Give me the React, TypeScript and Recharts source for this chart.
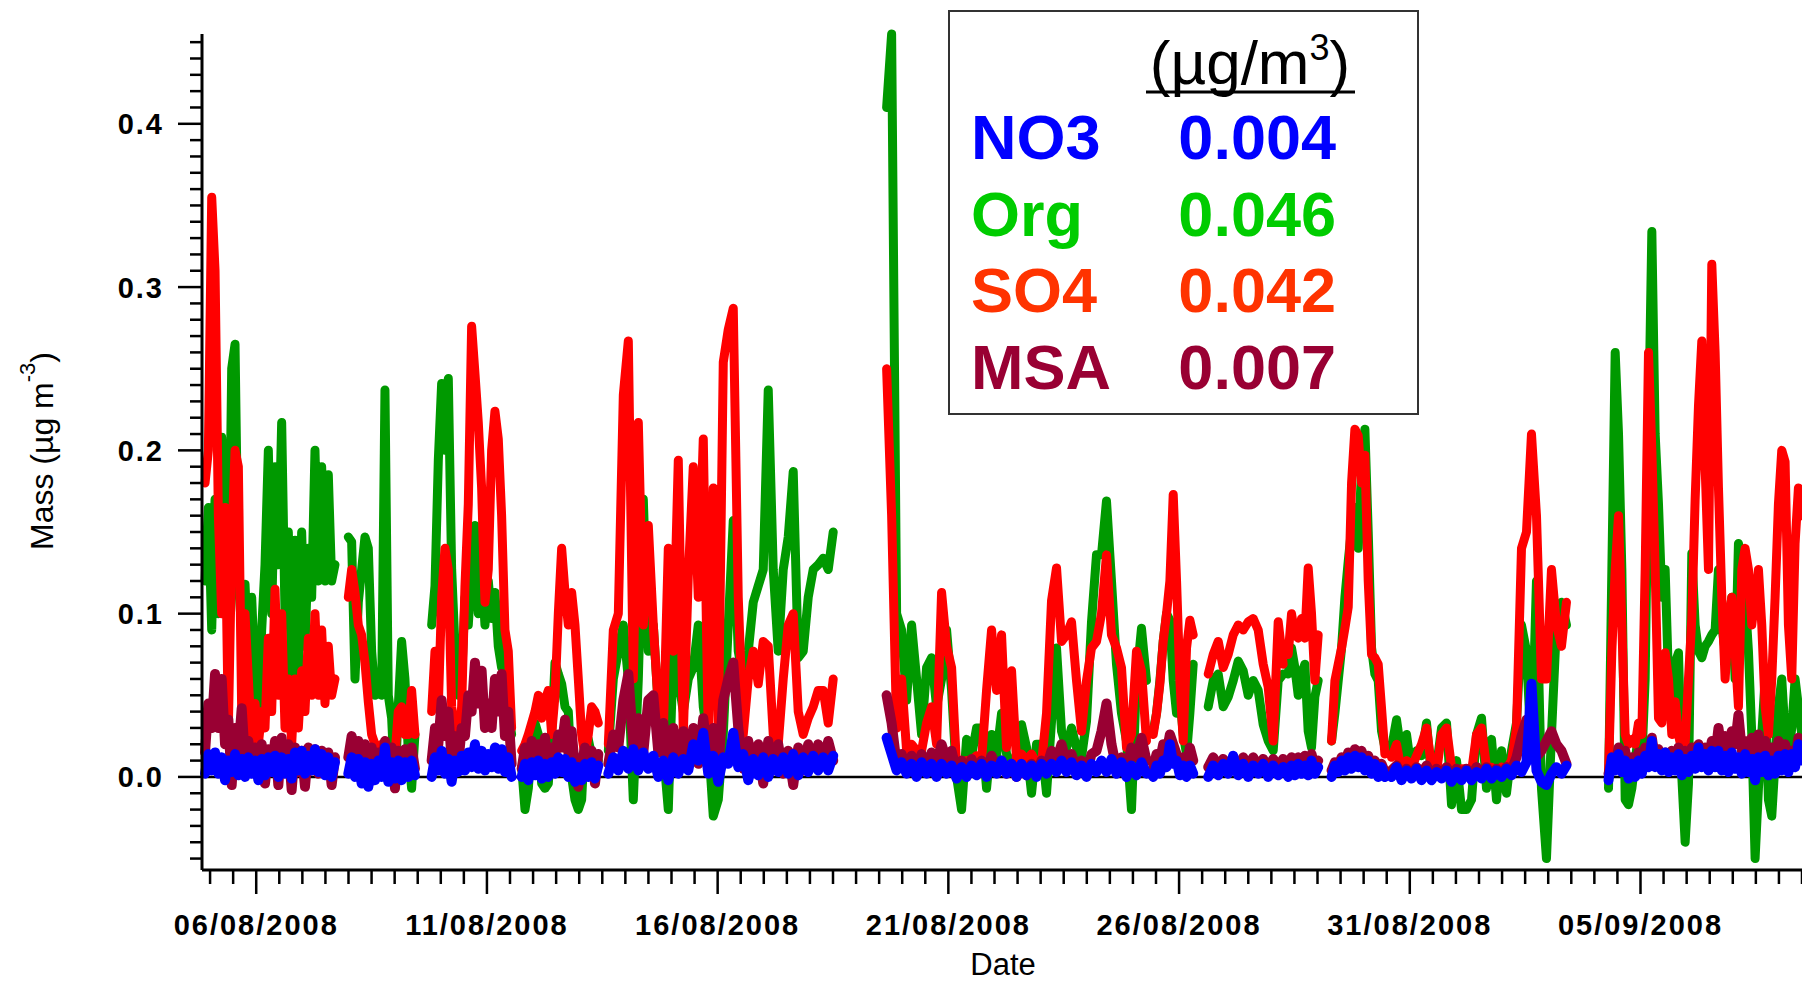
import React from 'react';
import { LineChart, Line, XAxis, YAxis, ReferenceLine } from 'recharts';

const W = 1802;
const H = 984;

// ---- time grid of each measurement segment (days since 05/08/2008 00:00) ----
const segStart = [-0.109, 2.996, 4.802, 6.753, 8.631, 14.662, 20.44, 21.632, 23.365, 24.305, 25.605, 30.307];
const segStep = [0.0722, 0.0722, 0.0722, 0.0722, 0.1083, 0.1083, 0.0722, 0.1083, 0.0722, 0.0722, 0.1083, 0.0722];

// ---- Org ----
const org1 = [0.12,0.165,0.09,0.17,0.1,0.208,0.15,0.09,0.25,0.265,0.12,0.09,0.118,0.07,0.11,0.06,0.04,0.09,0.13,0.2,0.1,0.19,0.13,0.217,0.1,0.15,0.06,0.145,0.06,0.15,0.08,0.14,0.11,0.2,0.12,0.19,0.12,0.185,0.12,0.13];
const org2 = [0.147,0.144,0.06,0.107,0.127,0.147,0.14,0.077,0.05,0.06,0.05,0.237,0.05,0.036,-0.007,0.043,0.083,0.06,0.016,-0.007,0.026];
const org3 = [0.093,0.117,0.194,0.241,0.2,0.244,0.127,0.08,0.05,0.06,0.11,0.093,0.127,0.154,0.1,0.13,0.093,0.12,0.097,0.113,0.08,0.067,0.083,0.04,0.026];
const org4 = [0.006,-0.02,-0.007,0.023,0.033,0.026,-0.004,-0.007,-0.004,0.026,0.07,0.063,0.057,0.043,0.04,0.0,-0.014,-0.02,-0.014,0.026,0.023,0.013,0.0,0.01];
const org5 = [0.016,0.06,0.077,0.093,0.06,-0.014,0.06,0.17,0.077,0.093,0.043,0.016,-0.02,0.077,0.06,0.04,0.06,0.067,0.093,0.043,0.023,-0.024,-0.014,0.026,0.093,0.157,0.077,0.06,0.077,0.107,0.117,0.127,0.237,0.127,0.077,0.127,0.147,0.187,0.073,0.077,0.11,0.127,0.13,0.134,0.127,0.15];
const org6 = [0.41,0.455,0.1,0.09,0.047,0.093,0.06,0.026,0.067,0.073,0.043,0.06,0.09,0.053,0.0,-0.02,0.023,0.013,0.03,0.03,-0.007,0.026,0.013,
  0.039,0.014,0.008,0.002,0.032,0.018,-0.01,0.02,0.02,-0.01,0.034,0.079,0.028,0.018,0.03,0.018,0.012,0.034,0.095,0.136,0.136,0.169,0.12,0.069,0.039,0.022,-0.02,0.059,0.091,0.059];
const org7 = [0.028,0.039,0.059,0.083,0.1,0.096,0.059,0.039,0.049,0.026,0.014,0.039,0.069];
const org8 = [0.043,0.059,0.063,0.043,0.049,0.059,0.071,0.065,0.05,0.059,0.053,0.032,0.022,0.016,0.059,0.063];
const org9 = [0.063,0.079,0.067,0.05,0.063,0.069,0.028,0.018,0.049,0.059];
const org10 = [0.022,0.039,0.059,0.079,0.11,0.132,0.152,0.165,0.14,0.189,0.213,0.15,0.079,0.063,0.059,0.028,0.018];
const org11 = [0.018,0.035,0.013,0.026,0.003,0.016,0.013,0.033,0.0,0.006,0.03,0.033,-0.017,0.01,-0.02,-0.02,-0.014,0.026,0.036,-0.007,0.023,-0.014,0.016,-0.01,0.016,0.033,0.093,0.077,0.013,0.12,-0.007,-0.05,0.026,0.093,0.107,0.093];
const org12 = [-0.007,0.127,0.26,0.21,0.127,-0.014,-0.017,-0.007,0.01,0.026,0.01,0.06,0.21,0.334,0.21,0.167,0.11,0.127,0.06,0.043,0.07,0.076,0.0,-0.04,-0.004,0.137,0.093,0.077,0.073,0.08,0.083,0.087,0.09,0.127,0.093,0.077,0.093,0.11,0.06,0.143,0.134,0.11,0.077,0.026,-0.05,-0.007,0.026,0.06,-0.014,-0.024,0.01,0.043,0.06,0.026,0.013,0.03,0.06,0.043,0.026];

// ---- SO4 ----
const so41 = [0.18,0.2,0.355,0.31,0.16,0.1,0.165,0.03,0.14,0.2,0.19,0.04,0.1,0.06,0.02,0.045,0.02,0.04,0.03,0.085,0.04,0.115,0.05,0.1,0.03,0.06,0.02,0.06,0.03,0.065,0.04,0.085,0.05,0.1,0.05,0.09,0.045,0.08,0.05,0.06];
const so42 = [0.11,0.127,0.113,0.093,0.087,0.07,0.046,0.026,0.02,0.003,0.02,0.016,0.01,0.013,0.013,0.04,0.043,0.026,0.026,0.053,0.026];
const so43 = [0.04,0.077,0.043,0.11,0.14,0.127,0.043,0.026,0.023,0.043,0.117,0.167,0.276,0.247,0.217,0.177,0.107,0.127,0.2,0.224,0.207,0.16,0.09,0.077,0.03];
const so44 = [0.016,0.02,0.026,0.033,0.04,0.05,0.036,0.047,0.053,0.026,0.05,0.1,0.14,0.113,0.093,0.113,0.093,0.06,0.026,0.013,0.026,0.043,0.04,0.033];
const so45 = [0.02,0.09,0.1,0.234,0.267,0.06,0.217,0.093,0.154,0.093,0.043,0.026,0.14,0.077,0.194,0.026,0.123,0.19,0.11,0.207,0.026,0.177,0.026,0.254,0.274,0.287,0.11,0.026,0.06,0.077,0.057,0.083,0.08,0.026,0.02,0.06,0.093,0.1,0.04,0.026,0.036,0.043,0.053,0.053,0.033,0.06];
const so46 = [0.25,0.16,0.03,0.06,0.016,0.02,0.016,0.016,0.033,0.043,0.02,0.113,0.08,0.067,0.006,0.006,0.01,0.01,0.013,0.01,0.053,0.09,0.053,
  0.087,0.018,0.065,0.01,0.014,0.01,0.014,0.008,0.008,0.039,0.108,0.128,0.083,0.087,0.095,0.059,0.028,0.059,0.079,0.083,0.1,0.136,0.087,0.079,0.067,0.018,0.026,0.077,0.065,0.022];
const so47 = [0.026,0.039,0.057,0.083,0.1,0.12,0.173,0.12,0.059,0.022,0.079,0.096,0.087];
const so48 = [0.063,0.075,0.083,0.067,0.075,0.087,0.093,0.09,0.095,0.097,0.09,0.069,0.055,0.022,0.095,0.069];
const so49 = [0.075,0.1,0.087,0.085,0.097,0.085,0.128,0.1,0.059,0.087];
const so410 = [0.022,0.059,0.069,0.079,0.091,0.104,0.18,0.213,0.209,0.18,0.197,0.12,0.075,0.073,0.069,0.042,0.014];
const so411 = [0.012,0.02,0.003,0.01,0.006,0.013,0.02,0.03,0.006,0.003,0.026,0.03,0.006,0.003,0.005,0.005,0.003,0.026,0.03,0.006,0.006,0.003,0.006,0.005,0.01,0.03,0.14,0.15,0.21,0.16,0.06,0.06,0.127,0.093,0.08,0.107];
const so412 = [0.003,0.077,0.127,0.16,0.093,0.026,0.02,0.023,0.02,0.033,0.026,0.127,0.26,0.2,0.127,0.036,0.033,0.076,0.06,0.026,0.046,0.026,0.016,0.02,0.06,0.097,0.17,0.227,0.267,0.19,0.127,0.314,0.26,0.177,0.11,0.06,0.093,0.11,0.077,0.043,0.127,0.14,0.127,0.093,0.11,0.127,0.093,0.043,0.026,0.06,0.11,0.167,0.2,0.193,0.093,0.06,0.143,0.177,0.16];

// ---- MSA ----
const msa1 = [0.015,0.045,0.03,0.063,0.03,0.06,0.02,0.035,-0.005,0.03,0.015,0.042,0.01,0.022,0.005,0.018,0.004,0.02,-0.004,0.017,0.006,0.022,-0.005,0.024,0.004,0.02,-0.008,0.018,0.003,0.016,-0.006,0.018,0.004,0.017,0.002,0.016,0.003,0.015,-0.005,0.012];
const msa2 = [0.012,0.025,0.008,0.022,0.006,0.02,-0.005,0.018,0.004,0.015,0.002,0.022,0.005,0.018,-0.007,0.016,0.004,0.017,0.003,0.018,0.005];
const msa3 = [0.01,0.03,0.02,0.047,0.025,0.04,0.01,0.025,0.008,0.03,0.025,0.05,0.04,0.07,0.045,0.065,0.03,0.045,0.03,0.06,0.04,0.063,0.025,0.04,0.008];
const msa4 = [0.005,0.018,0.006,0.022,0.005,0.02,0.01,0.024,0.006,0.018,0.012,0.026,0.018,0.035,0.015,0.028,0.005,-0.006,0.008,0.018,0.002,0.016,-0.004,0.014];
const msa5 = [0.008,0.026,0.018,0.047,0.063,0.02,0.036,0.015,0.047,0.05,0.015,0.033,0.008,0.03,0.012,0.028,0.01,0.03,0.008,0.036,0.01,0.03,0.005,0.047,0.06,0.07,0.03,0.005,0.022,0.004,0.02,-0.004,0.022,0.004,0.02,0.002,0.016,-0.005,0.018,0.004,0.02,0.006,0.02,0.008,0.022,0.01];
const msa6 = [0.05,0.033,0.008,0.014,0.005,0.013,0.006,0.014,0.005,0.015,0.008,0.02,0.01,0.016,0.003,0.01,0.002,0.011,0.003,0.01,0.004,0.013,0.006,
  0.01,0.002,0.008,0.0,0.007,0.001,0.008,0.002,0.01,0.006,0.016,0.01,0.02,0.008,0.014,0.004,0.01,0.002,0.014,0.016,0.028,0.045,0.02,0.005,0.012,0.004,0.018,0.012,0.024,0.01];
const msa7 = [0.006,0.014,0.01,0.02,0.015,0.026,0.02,0.014,0.004,0.012,0.008,0.018,0.01];
const msa8 = [0.006,0.012,0.006,0.011,0.006,0.011,0.005,0.012,0.005,0.012,0.006,0.011,0.005,0.011,0.006,0.011];
const msa9 = [0.006,0.012,0.007,0.012,0.007,0.013,0.008,0.014,0.006,0.01];
const msa10 = [0.004,0.009,0.006,0.012,0.008,0.015,0.01,0.017,0.011,0.016,0.009,0.013,0.006,0.01,0.004,0.008,0.003];
const msa11 = [0.004,0.007,0.001,0.005,0.002,0.006,0.002,0.007,0.001,0.005,0.002,0.006,0.001,0.005,0.002,0.005,0.001,0.006,0.002,0.006,0.001,0.005,0.002,0.006,0.004,0.012,0.025,0.035,0.018,0.012,0.016,0.022,0.028,0.02,0.016,0.008];
const msa12 = [0.002,0.01,0.006,0.018,0.008,0.016,0.004,0.012,0.003,0.015,0.008,0.018,0.012,0.024,0.01,0.017,0.006,0.015,0.007,0.016,0.008,0.018,0.006,0.016,0.007,0.018,0.009,0.02,0.01,0.018,0.009,0.022,0.012,0.03,0.015,0.025,0.012,0.028,0.02,0.038,0.016,0.022,0.01,0.024,0.008,0.026,0.012,0.022,0.006,0.018,0.008,0.022,0.012,0.02,0.006,0.016,0.01,0.024,0.02];

// ---- NO3 ----
const no31 = [0.002,0.014,0.004,0.015,0.002,0.012,-0.002,0.01,0.003,0.014,0.001,0.011,0.0,0.012,0.002,0.01,-0.002,0.011,0.001,0.012,0.003,0.013,0.0,0.012,0.002,0.011,-0.001,0.015,0.004,0.016,0.002,0.013,0.004,0.017,0.003,0.014,0.001,0.012,0.0,0.009];
const no32 = [0.002,0.012,0.0,0.011,-0.004,0.009,-0.006,0.008,-0.002,0.01,0.0,0.018,-0.003,0.009,-0.001,0.01,-0.002,0.009,0.0,0.01,0.001];
const no33 = [0.0,0.012,0.004,0.016,0.002,0.011,-0.003,0.01,0.003,0.013,0.004,0.015,0.006,0.02,0.005,0.016,0.004,0.014,0.006,0.018,0.005,0.017,0.003,0.012,0.0];
const no34 = [0.0,0.008,-0.002,0.009,0.001,0.01,-0.001,0.008,0.0,0.009,0.002,0.012,0.003,0.011,0.0,0.009,-0.003,0.006,-0.002,0.008,0.0,0.009,-0.001,0.007];
const no35 = [0.002,0.012,0.004,0.016,0.005,0.017,0.004,0.015,0.005,0.013,0.0,0.01,-0.002,0.012,0.002,0.011,0.004,0.02,0.01,0.027,0.002,0.013,-0.003,0.012,0.008,0.027,0.006,0.014,-0.002,0.011,0.001,0.012,0.0,0.011,0.003,0.012,0.002,0.014,0.001,0.012,0.003,0.013,0.004,0.012,0.004,0.013];
const no36 = [0.024,0.014,0.004,0.009,0.002,0.008,0.0,0.009,0.002,0.008,0.0,0.008,0.002,0.007,-0.001,0.006,0.0,0.007,0.001,0.008,0.0,0.007,0.002,
  0.01,0.002,0.008,0.0,0.008,0.001,0.007,0.0,0.008,0.002,0.008,0.003,0.01,0.003,0.009,0.001,0.007,0.0,0.008,0.003,0.01,0.003,0.011,0.002,0.009,0.0,0.007,0.001,0.009,0.002];
const no37 = [0.0,0.007,0.002,0.01,0.006,0.02,0.008,0.01,0.001,0.007,0.0,0.007,0.002];
const no38 = [0.0,0.007,0.001,0.008,0.002,0.013,0.001,0.008,0.0,0.007,0.002,0.008,0.0,0.007,0.001,0.006];
const no39 = [0.0,0.007,0.001,0.008,0.002,0.007,0.001,0.01,0.002,0.006];
const no310 = [0.0,0.007,0.003,0.01,0.004,0.012,0.005,0.013,0.006,0.012,0.004,0.01,0.002,0.008,0.0,0.006,0.0];
const no311 = [0.0,0.006,-0.002,0.004,-0.001,0.005,-0.002,0.004,-0.002,0.003,-0.001,0.004,-0.003,0.003,-0.002,0.004,-0.002,0.003,-0.001,0.005,-0.001,0.004,0.0,0.005,0.001,0.007,0.003,0.009,0.057,0.004,-0.003,-0.005,0.002,0.006,0.002,0.007];
const no312 = [-0.002,0.012,0.004,0.014,0.003,0.01,-0.001,0.008,0.0,0.01,0.002,0.013,0.006,0.022,0.006,0.014,0.004,0.015,0.003,0.012,0.004,0.014,0.001,0.011,0.003,0.013,0.005,0.018,0.006,0.014,0.004,0.016,0.006,0.016,0.004,0.013,0.003,0.015,0.005,0.012,0.002,0.014,0.003,0.011,-0.002,0.012,0.003,0.013,0.001,0.01,0.002,0.013,0.004,0.014,0.003,0.014,0.006,0.02,0.01];

const orgSegs = [org1, org2, org3, org4, org5, org6, org7, org8, org9, org10, org11, org12];
const so4Segs = [so41, so42, so43, so44, so45, so46, so47, so48, so49, so410, so411, so412];
const msaSegs = [msa1, msa2, msa3, msa4, msa5, msa6, msa7, msa8, msa9, msa10, msa11, msa12];
const no3Segs = [no31, no32, no33, no34, no35, no36, no37, no38, no39, no310, no311, no312];

// ---- axis ticks ----
const xMajorDays = [1, 6, 11, 16, 21, 26, 31];
const xMajorLabels = ['06/08/2008', '11/08/2008', '16/08/2008', '21/08/2008', '26/08/2008', '31/08/2008', '05/09/2008'];
const xTicks = Array.from({ length: 70 }, (_, i) => i * 0.5);
const yMajorValues = [0, 0.1, 0.2, 0.3, 0.4];
const yMajorLabels = ['0.0', '0.1', '0.2', '0.3', '0.4'];
const yTicks = Array.from({ length: 51 }, (_, i) => Math.round(i - 5) / 100);

// ---- legend ----
const legendNames = ['NO3', 'Org', 'SO4', 'MSA'];
const legendValues = ['0.004', '0.046', '0.042', '0.007'];
const legendColors = ['#0000FF', '#00CC00', '#FF3300', '#990033'];

type Row = { t: number; org: number | null; so4: number | null; msa: number | null; no3: number | null };

function at(arr: number[], i: number): number | null {
  return i < arr.length ? arr[i] : null;
}

function buildRows(): Row[] {
  const rows: Row[] = [];
  for (let s = 0; s < segStart.length; s++) {
    const n = Math.max(orgSegs[s].length, so4Segs[s].length, msaSegs[s].length, no3Segs[s].length);
    let last = segStart[s];
    for (let i = 0; i < n; i++) {
      last = segStart[s] + i * segStep[s];
      rows.push({ t: last, org: at(orgSegs[s], i), so4: at(so4Segs[s], i), msa: at(msaSegs[s], i), no3: at(no3Segs[s], i) });
    }
    if (s < segStart.length - 1) {
      rows.push({ t: last + segStep[s] / 2, org: null, so4: null, msa: null, no3: null });
    }
  }
  return rows;
}

const rows = buildRows();

const FONT = '"Liberation Sans", Arial, Helvetica, sans-serif';

const XTick = (props: any) => {
  const { x, y, payload } = props;
  const v = payload.value;
  const idx = xMajorDays.indexOf(v);
  const major = idx >= 0;
  return (
    <g>
      <line x1={x} x2={x} y1={y} y2={y + (major ? 24 : 14)} stroke="#000" strokeWidth={2.5} />
      {major && (
        <text x={x} y={y + 65} textAnchor="middle" fontFamily={FONT} fontWeight="bold" fontSize={29} letterSpacing={2} fill="#000">
          {xMajorLabels[idx]}
        </text>
      )}
    </g>
  );
};

const YTick = (props: any) => {
  const { x, y, payload } = props;
  const v = payload.value;
  const idx = yMajorValues.findIndex((m) => Math.abs(m - v) < 1e-9);
  const major = idx >= 0;
  return (
    <g>
      <line x1={x - (major ? 24 : 12)} x2={x} y1={y} y2={y} stroke="#000" strokeWidth={2.5} />
      {major && (
        <text x={x - 38} y={y + 10.5} textAnchor="end" fontFamily={FONT} fontWeight="bold" fontSize={29} letterSpacing={2} fill="#000">
          {yMajorLabels[idx]}
        </text>
      )}
    </g>
  );
};

export default function App() {
  return (
    <div style={{ position: 'absolute', left: 0, top: 0, width: W, height: H, background: '#fff', overflow: 'hidden' }}>
      <LineChart width={W} height={H} data={rows} margin={{ top: 34, right: 0, bottom: 0, left: 0 }}>
        <XAxis
          dataKey="t"
          type="number"
          domain={[-0.175, 34.5]}
          ticks={xTicks}
          interval={0}
          tickSize={0}
          tickMargin={0}
          tickLine={false}
          tick={XTick}
          axisLine={{ stroke: '#000', strokeWidth: 3 }}
          height={114}
        />
        <YAxis
          type="number"
          domain={[-0.057, 0.453]}
          ticks={yTicks}
          interval={0}
          tickSize={0}
          tickMargin={0}
          tickLine={false}
          tick={YTick}
          axisLine={{ stroke: '#000', strokeWidth: 3 }}
          width={202}
        />
        <ReferenceLine y={0} stroke="#000" strokeWidth={2.5} />
        <Line type="linear" dataKey="org" stroke="#009900" strokeWidth={9} dot={false} isAnimationActive={false} strokeLinejoin="round" strokeLinecap="round" />
        <Line type="linear" dataKey="so4" stroke="#FF0000" strokeWidth={9} dot={false} isAnimationActive={false} strokeLinejoin="round" strokeLinecap="round" />
        <Line type="linear" dataKey="msa" stroke="#990033" strokeWidth={10} dot={false} isAnimationActive={false} strokeLinejoin="round" strokeLinecap="round" />
        <Line type="linear" dataKey="no3" stroke="#0000FF" strokeWidth={10} dot={false} isAnimationActive={false} strokeLinejoin="round" strokeLinecap="round" />
      </LineChart>
      <svg style={{ position: 'absolute', left: 0, top: 0, pointerEvents: 'none' }} width={W} height={H}>
        <text transform="translate(53,451) rotate(-90)" textAnchor="middle" fontFamily={FONT} fontSize={32} fill="#000">
          Mass (µg m<tspan dy={-18} fontSize={22}>-3</tspan><tspan dy={18}>)</tspan>
        </text>
        <text x={1003} y={975} textAnchor="middle" fontFamily={FONT} fontSize={31} fill="#000">Date</text>
        <rect x={949} y={11} width={469} height={403} fill="#fff" stroke="#333" strokeWidth={2} />
        <text x={1250} y={84} textAnchor="middle" fontFamily={FONT} fontSize={62} fill="#000">
          (µg/m<tspan dy={-24} fontSize={36}>3</tspan><tspan dy={24}>)</tspan>
        </text>
        <line x1={1146} x2={1355} y1={92} y2={92} stroke="#000" strokeWidth={3} />
        {legendNames.map((n, i) => (
          <g key={n}>
            <text x={971} y={159 + i * 76.7} fontFamily={FONT} fontWeight="bold" fontSize={63} fill={legendColors[i]}>{n}</text>
            <text x={1336} y={159 + i * 76.7} textAnchor="end" fontFamily={FONT} fontWeight="bold" fontSize={63} fill={legendColors[i]}>{legendValues[i]}</text>
          </g>
        ))}
      </svg>
    </div>
  );
}
